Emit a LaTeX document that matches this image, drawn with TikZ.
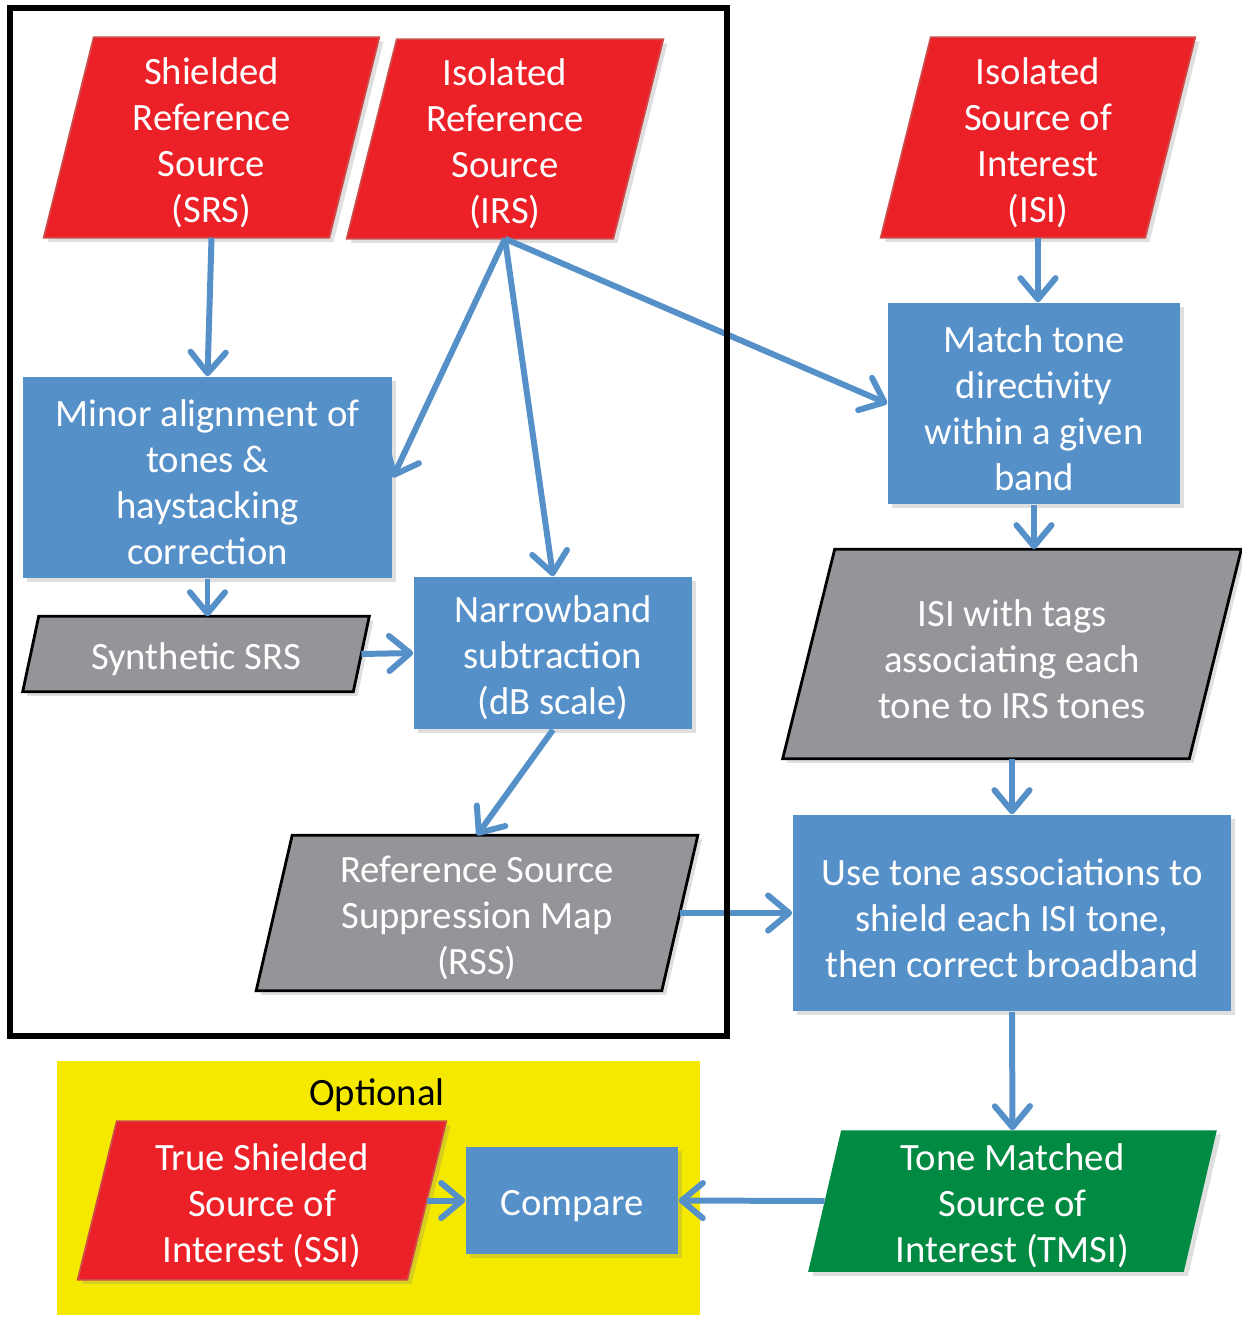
\documentclass[tikz,border=0pt]{standalone}
\usepackage{fontspec}
\setmainfont{Carlito}
\usetikzlibrary{arrows.meta,shadows,backgrounds}

\definecolor{srcred}{RGB}{236,32,39}
\definecolor{srcline}{RGB}{205,75,72}
\definecolor{procblue}{RGB}{86,144,201}
\definecolor{datagray}{RGB}{147,149,153}
\definecolor{tmgreen}{RGB}{0,138,66}
\definecolor{optyellow}{RGB}{245,233,0}

\tikzset{
  boxshadow/.style={drop shadow={opacity=0.25,shadow xshift=1.2pt,shadow yshift=-1.2pt}},
  textbox/.style={rectangle, inner sep=0pt, align=center, text=white},
  process/.style={textbox, fill=procblue, boxshadow},
  source/.style={fill=srcred, draw=srcline, line width=0.5pt, boxshadow},
  interim/.style={fill=datagray, draw=black, line width=0.8pt, boxshadow},
  result/.style={fill=tmgreen, boxshadow},
  flow/.style={draw=procblue, line width=1.7pt, -{Straight Barb[length=6pt,width=10pt,round]}}
}

% slanted outline behind a text node: #1 node, #2 half slant, #3 style
\newcommand{\slantbox}[3]{%
  \path[#3] ([xshift=#2]#1.north west) -- ([xshift=#2]#1.north east)
     -- ([xshift=-#2]#1.south east) -- ([xshift=-#2]#1.south west) -- cycle;}
% taller first line, so the text sits a little lower in its box
\newcommand{\topstrut}{\rule{0pt}{10.4pt}}

\begin{document}
\begin{tikzpicture}[x=0.01cm, y=-0.01cm,
    every node/.style={font=\fontsize{11}{13.1}\selectfont}]

\useasboundingbox (0,0) rectangle (1241,1317);

% sources
\node [textbox, minimum width=2.84cm, minimum height=1.99cm] (srs) at (211.5,137.5) {\topstrut Shielded\\Reference\\Source\\(SRS)};
\node [textbox, minimum width=2.65cm, minimum height=1.98cm] (irs) at (505,139) {\topstrut Isolated\\Reference\\Source\\(IRS)};
\node [textbox, minimum width=2.63cm, minimum height=1.99cm] (isi) at (1038,137.5) {\topstrut Isolated\\Source of\\Interest\\(ISI)};
\node [textbox, minimum width=3.28cm, minimum height=1.57cm] (ssi) at (262,1200.5) {\topstrut True Shielded\\Source of\\Interest (SSI)};

% processing
\node [process, minimum width=3.69cm, minimum height=2.01cm] (minor) at (207.5,477.5) {\topstrut Minor alignment of\\tones \&\\haystacking\\correction};
\node [process, minimum width=2.78cm, minimum height=1.52cm] (narrow) at (553,653) {\topstrut Narrowband\\subtraction\\(dB scale)};
\node [process, minimum width=2.92cm, minimum height=2.01cm] (match) at (1034,403.5) {\topstrut Match tone\\directivity\\within a given\\band};
\node [process, minimum width=4.38cm, minimum height=1.96cm] (usetone) at (1012,913) {\topstrut Use tone associations to\\shield each ISI tone,\\then correct broadband};
\node [process, minimum width=2.12cm, minimum height=1.07cm] (compare) at (572,1200.5) {\topstrut Compare};

% intermediate data and result
\node [textbox, minimum width=3.29cm, minimum height=0.74cm] (synth) at (196,654) {\topstrut Synthetic SRS};
\node [textbox, minimum width=4.04cm, minimum height=1.54cm] (rss) at (477,913) {\topstrut Reference Source\\Suppression Map\\(RSS)};
\node [textbox, minimum width=4.05cm, minimum height=2.08cm] (tags) at (1012,654) {\topstrut ISI with tags\\associating each\\tone to IRS tones};
\node [textbox, minimum width=3.74cm, minimum height=1.40cm] (tmsi) at (1012.5,1201) {\topstrut Tone Matched\\Source of\\Interest (TMSI)};

\begin{pgfonlayer}{background}
  \node [fill=optyellow, minimum width=6.43cm, minimum height=2.54cm, inner sep=0pt] (optbox) at (378.5,1188) {};
  \slantbox{srs}{0.25cm}{source}
  \slantbox{irs}{0.25cm}{source}
  \slantbox{isi}{0.25cm}{source}
  \slantbox{ssi}{0.195cm}{source}
  \slantbox{synth}{0.08cm}{interim}
  \slantbox{rss}{0.18cm}{interim}
  \slantbox{tags}{0.26cm}{interim}
  \slantbox{tmsi}{0.165cm}{result}
\end{pgfonlayer}
\node [text=black] (optlabel) at (377,1090) {\topstrut Optional};

% connectors
\draw [flow] (srs.south) -- (minor.north);
\draw [flow] (irs.south) -- (minor.east);
\draw [flow] (irs.south) -- (narrow.north);
\draw [flow] (irs.south) -- (match.west);
\draw [flow] (isi.south) -- (isi.south |- match.north);
\draw [flow] (minor.south) -- (minor.south |- synth.north);
\draw [flow] (synth.east) -- (narrow.west);
\draw [flow] (narrow.south) -- (rss.north);
\draw [flow] (match.south) -- (match.south |- tags.north);
\draw [flow] (tags.south) -- (usetone.north);
\draw [flow] (rss.east) -- (usetone.west);
\draw [flow] (usetone.south) -- (tmsi.north);
\draw [flow] (tmsi.west) -- (compare.east);
\draw [flow] (ssi.east) -- (compare.west);

% frame round the reference part
\node [draw, line width=1.6pt, minimum width=7.17cm, minimum height=10.28cm, inner sep=0pt] (refframe) at (368.5,522) {};

\end{tikzpicture}
\end{document}
